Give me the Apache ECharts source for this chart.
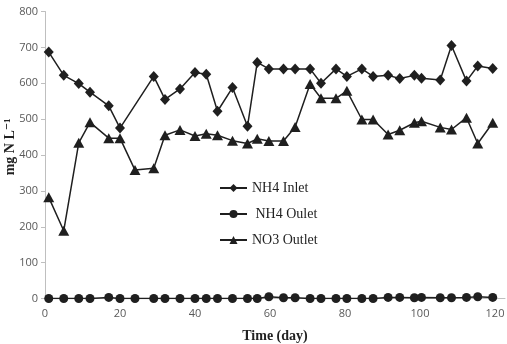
<!DOCTYPE html>
<html>
<head>
<meta charset="utf-8">
<script src="https://cdn.jsdelivr.net/npm/echarts@6/dist/echarts.min.js"></script>
<style>
  html, body { margin: 0; padding: 0; background: #fff; }
  #chart { width: 507px; height: 344px; }
</style>
</head>
<body>
<div id="chart"></div>
<script>
// sampling days (inlet has no sample at day 24)
var daysInlet = [1, 5, 9, 12, 17, 20, 29, 32, 36, 40, 43, 46, 50, 54, 56.6, 59.7, 63.6, 66.7, 70.7, 73.6,
    77.6, 80.5, 84.5, 87.5, 91.5, 94.6, 98.5, 100.4, 105.4, 108.4, 112.4, 115.4, 119.4];
var daysOutlet = [1, 5, 9, 12, 17, 20, 24, 29, 32, 36, 40, 43, 46, 50, 54, 56.6, 59.7, 63.6, 66.7, 70.7, 73.6,
    77.6, 80.5, 84.5, 87.5, 91.5, 94.6, 98.5, 100.4, 105.4, 108.4, 112.4, 115.4, 119.4];

var nh4Inlet = [687, 622, 599, 575, 537, 475, 619, 555, 584, 630, 625, 522, 588, 480, 658, 640, 640, 640, 640, 600,
    640, 619, 640, 619, 622, 613, 622, 614, 609, 705, 606, 648, 641];
var nh4Outlet = [0, 0, 0, 0, 3, 0, 0, 0, 0, 0, 0, 0, 0, 0, 0, 0, 5, 2, 2, 0, 0,
    0, 0, 0, 0, 3, 3, 2, 3, 2, 2, 3, 5, 3];
var no3Outlet = [282, 189, 434, 491, 447, 447, 358, 363, 455, 470, 453, 459, 455, 440, 432, 445, 439, 439, 478, 598, 558,
    558, 579, 499, 499, 457, 469, 490, 494, 477, 471, 504, 432, 490];

var seriesNames = ['NH4 Inlet', ' NH4 Oulet', 'NO3 Outlet'];

function pairs(xs, ys) {
    return xs.map(function (x, i) { return [x, ys[i]]; });
}

var serif = '"Liberation Serif", "DejaVu Serif", serif';
var lineColor = '#1f1f1f';

var chart = echarts.init(document.getElementById('chart'));
var option = {
    backgroundColor: '#fff',
    animation: false,
    grid: { left: 45, right: 2, top: 11.5, bottom: 45.5, containLabel: false, outerBoundsMode: 'none' },
    legend: {
        orient: 'vertical',
        left: 214,
        top: 176,
        itemWidth: 27,
        itemHeight: 10,
        itemGap: 12,
        textStyle: { fontFamily: serif, fontSize: 14, color: '#222' },
        data: seriesNames
    },
    xAxis: {
        type: 'value',
        min: 0,
        max: 122.67,
        interval: 20,
        name: 'Time (day)',
        nameLocation: 'middle',
        nameGap: 31,
        nameMoveOverlap: false,
        nameTextStyle: { fontFamily: serif, fontSize: 14, fontWeight: 'bold', color: '#222' },
        axisLine: { lineStyle: { color: '#bfbfbf' } },
        axisTick: { show: false },
        splitLine: { show: false },
        axisLabel: { showMaxLabel: false, margin: 10, fontFamily: '"Open Sans", sans-serif', fontSize: 11, color: '#595959' }
    },
    yAxis: {
        type: 'value',
        min: 0,
        max: 800,
        interval: 100,
        name: 'mg N L⁻¹',
        nameLocation: 'middle',
        nameGap: 28,
        nameMoveOverlap: false,
        nameTextStyle: { fontFamily: serif, fontSize: 14, fontWeight: 'bold', color: '#222', padding: [0, 0, 0, 16] },
        axisLine: { show: true, lineStyle: { color: '#bfbfbf' } },
        axisTick: { show: true, length: 4, lineStyle: { color: '#bfbfbf' } },
        splitLine: { show: false },
        axisLabel: { margin: 7, fontFamily: '"Open Sans", sans-serif', fontSize: 11, color: '#595959' }
    },
    series: [
        {
            name: seriesNames[0],
            type: 'line',
            data: pairs(daysInlet, nh4Inlet),
            symbol: 'diamond',
            symbolSize: [10, 11],
            lineStyle: { color: lineColor, width: 1.5 },
            itemStyle: { color: lineColor }
        },
        {
            name: seriesNames[1],
            type: 'line',
            data: pairs(daysOutlet, nh4Outlet),
            symbol: 'circle',
            symbolSize: 9,
            lineStyle: { color: lineColor, width: 1.5 },
            itemStyle: { color: lineColor }
        },
        {
            name: seriesNames[2],
            type: 'line',
            data: pairs(daysOutlet, no3Outlet),
            symbol: 'triangle',
            symbolSize: [11, 10],
            lineStyle: { color: lineColor, width: 1.5 },
            itemStyle: { color: lineColor }
        }
    ]
};
chart.setOption(option);
</script>
</body>
</html>
